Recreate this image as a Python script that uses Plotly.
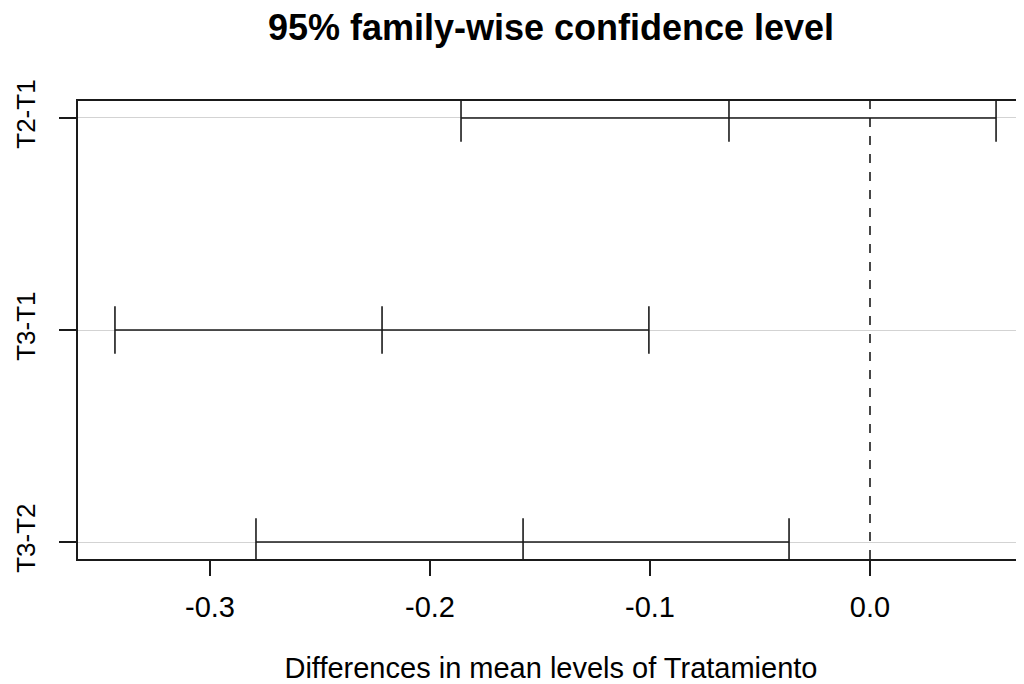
import plotly.graph_objects as go

comparisons = ["T2-T1", "T3-T1", "T3-T2"]
positions = [3, 2, 1]
diff = [-0.0641, -0.2218, -0.1577]
lwr = [-0.1859, -0.3432, -0.2791]
upr = [0.0573, -0.1005, -0.0368]
x_ticks = [-0.3, -0.2, -0.1, 0.0]
x_ticktext = ["-0.3", "-0.2", "-0.1", "0.0"]

FONT = "Liberation Sans, Arial, sans-serif"
LINE = "#1a1a1a"

fig = go.Figure()

for i in range(len(comparisons)):
    fig.add_trace(go.Scatter(
        x=[lwr[i], upr[i]], y=[positions[i], positions[i]],
        mode="lines", line=dict(color=LINE, width=1.6),
        showlegend=False, hoverinfo="skip"))
    fig.add_trace(go.Scatter(
        x=[lwr[i], diff[i], upr[i]], y=[positions[i]] * 3,
        mode="markers",
        marker=dict(symbol="line-ns-open", size=34, color=LINE,
                    line=dict(color=LINE, width=1.6)),
        showlegend=False, hoverinfo="skip"))

fig.add_vline(x=0, line=dict(color=LINE, width=1.6, dash="dash"), layer="above")

# page body has an 8px margin, so the figure is offset by 8px
fig.update_layout(
    width=1016, height=676,
    margin=dict(l=70, r=0, t=93, b=123),
    paper_bgcolor="white", plot_bgcolor="white",
    font=dict(family=FONT, color="black"),
    title=dict(text="<b>95% family-wise confidence level</b>",
               x=0.5, xanchor="center", xref="paper", y=0.971, yanchor="middle",
               font=dict(size=36, family=FONT, color="black")),
)

fig.update_xaxes(
    range=[-0.36, 0.07], tickvals=x_ticks, ticktext=x_ticktext,
    ticks="outside", ticklen=15, tickwidth=1.6, tickcolor=LINE,
    showline=True, linecolor=LINE, linewidth=1.6, mirror=True,
    showgrid=False, zeroline=False,
    tickfont=dict(size=29, family=FONT, color="black"),
    ticklabelstandoff=6,
    title=dict(text="Differences in mean levels of Tratamiento",
               font=dict(size=29, family=FONT, color="black"), standoff=41),
)

fig.update_yaxes(
    range=[0.92, 3.08], tickvals=positions, ticktext=comparisons,
    tickangle=-90,
    ticks="outside", ticklen=17, tickwidth=1.6, tickcolor=LINE,
    showline=True, linecolor=LINE, linewidth=1.6, mirror=False,
    showgrid=True, gridcolor="#d3d3d3", gridwidth=1.4, zeroline=False,
    tickfont=dict(size=26, family=FONT, color="black"),
    ticklabelstandoff=14,
)

fig.write_html("out.html")
